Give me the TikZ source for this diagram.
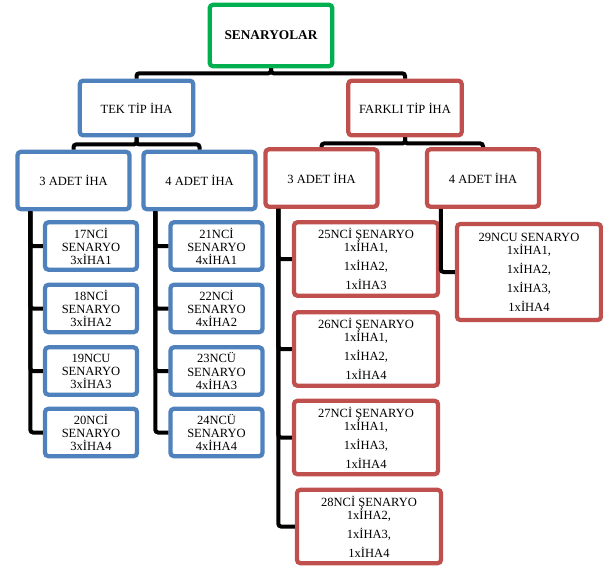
\documentclass[tikz,border=0pt]{standalone}
\usepackage{fontspec}
\setmainfont{Liberation Serif}
\usetikzlibrary{calc}
\definecolor{cGreen}{RGB}{0,176,80}
\definecolor{cBlue}{RGB}{79,129,189}
\definecolor{cRed}{RGB}{192,80,77}
\tikzset{
	box/.style     ={rectangle, rounded corners=2.5pt, line width=3.2pt, fill=white, align=center, inner sep=1pt},
	rootbox/.style ={box, draw=cGreen, minimum width=92pt, minimum height=46pt, font=\bfseries},
	grpbox/.style  ={box, minimum width=85pt, minimum height=41pt},
	cntbox/.style  ={box, minimum width=84pt, minimum height=43pt},
	tekleaf/.style ={box, draw=cBlue, minimum width=69pt, minimum height=35.5pt},
	farkleaf/.style={box, draw=cRed, minimum width=108pt, minimum height=55pt},
	conn/.style    ={line width=3pt, rounded corners=2pt},
}
\begin{document}
\begin{tikzpicture}[x=0.75pt, y=-0.75pt, font=\fontsize{9.4}{9.8}\selectfont]
	\useasboundingbox (0,0) rectangle (603,568);
	\node[rootbox] (top) at (271,35.5) {SENARYOLAR};
	\node[grpbox, draw=cBlue] (tek) at (136.5,108) {TEK TİP İHA};
	\node[grpbox, draw=cRed] (farkli) at (405,108) {FARKLI TİP İHA};
	\node[cntbox, draw=cBlue] (tekuc) at (73.5,180.5) {3 ADET İHA};
	\node[cntbox, draw=cBlue] (tekdort) at (199.5,180.5) {4 ADET İHA};
	\node[cntbox, draw=cRed] (farkliuc) at (321.5,178) {3 ADET İHA};
	\node[cntbox, draw=cRed] (farklidort) at (483,178) {4 ADET İHA};
	% tek tip senaryolar
	\node[tekleaf] (s17) at (91,246) {17NCİ\\SENARYO\\3xİHA1};
	\node[tekleaf] (s18) at (91,308.5) {18NCİ\\SENARYO\\3xİHA2};
	\node[tekleaf] (s19) at (91,371) {19NCU\\SENARYO\\3xİHA3};
	\node[tekleaf] (s20) at (91,432.5) {20NCİ\\SENARYO\\3xİHA4};
	\node[tekleaf] (s21) at (216.5,246) {21NCİ\\SENARYO\\4xİHA1};
	\node[tekleaf] (s22) at (216.5,308.5) {22NCİ\\SENARYO\\4xİHA2};
	\node[tekleaf] (s23) at (216.5,371) {23NCÜ\\SENARYO\\4xİHA3};
	\node[tekleaf] (s24) at (216.5,432.5) {24NCÜ\\SENARYO\\4xİHA4};
	% farkli tip senaryolar
	\node[farkleaf] (s25) at (366,259) {25NCİ ŞENARYO\\1xİHA1,\\[4.5pt]1xİHA2,\\[4.5pt]1xİHA3};
	\node[farkleaf] (s26) at (366,349) {26NCİ ŞENARYO\\1xİHA1,\\[4.5pt]1xİHA2,\\[4.5pt]1xİHA4};
	\node[farkleaf] (s27) at (366,437.5) {27NCİ ŞENARYO\\1xİHA1,\\[4.5pt]1xİHA3,\\[4.5pt]1xİHA4};
	\node[farkleaf] (s28) at (369,526.5) {28NCİ ŞENARYO\\1xİHA2,\\[4.5pt]1xİHA3,\\[4.5pt]1xİHA4};
	\node[farkleaf, minimum height=72pt] (s29) at (529,272) {29NCU SENARYO\\1xİHA1,\\[4.5pt]1xİHA2,\\[4.5pt]1xİHA3,\\[4.5pt]1xİHA4};

	\draw[conn] (top.south) -- ++(0,5) -| (tek.north);
	\draw[conn] (top.south) -- ++(0,5) -| (farkli.north);
	\draw[conn] (tek.south) -- ++(0,7) -| (tekuc.north);
	\draw[conn] (tek.south) -- ++(0,7) -| (tekdort.north);
	\draw[conn] (farkli.south) -- ++(0,6) -| (farkliuc.north);
	\draw[conn] (farkli.south) -- ++(0,6) -| (farklidort.north);
	\foreach \s in {s17,s18,s19,s20}
		\draw[conn] ($(tekuc.south west)+(15,0)$) |- (\s.west);
	\foreach \s in {s21,s22,s23,s24}
		\draw[conn] ($(tekdort.south west)+(14,0)$) |- (\s.west);
	\foreach \s in {s25,s26,s27,s28}
		\draw[conn] ($(farkliuc.south west)+(15,0)$) |- (\s.west);
	\draw[conn] ($(farklidort.south west)+(16,0)$) |- (s29.west);
\end{tikzpicture}
\end{document}
